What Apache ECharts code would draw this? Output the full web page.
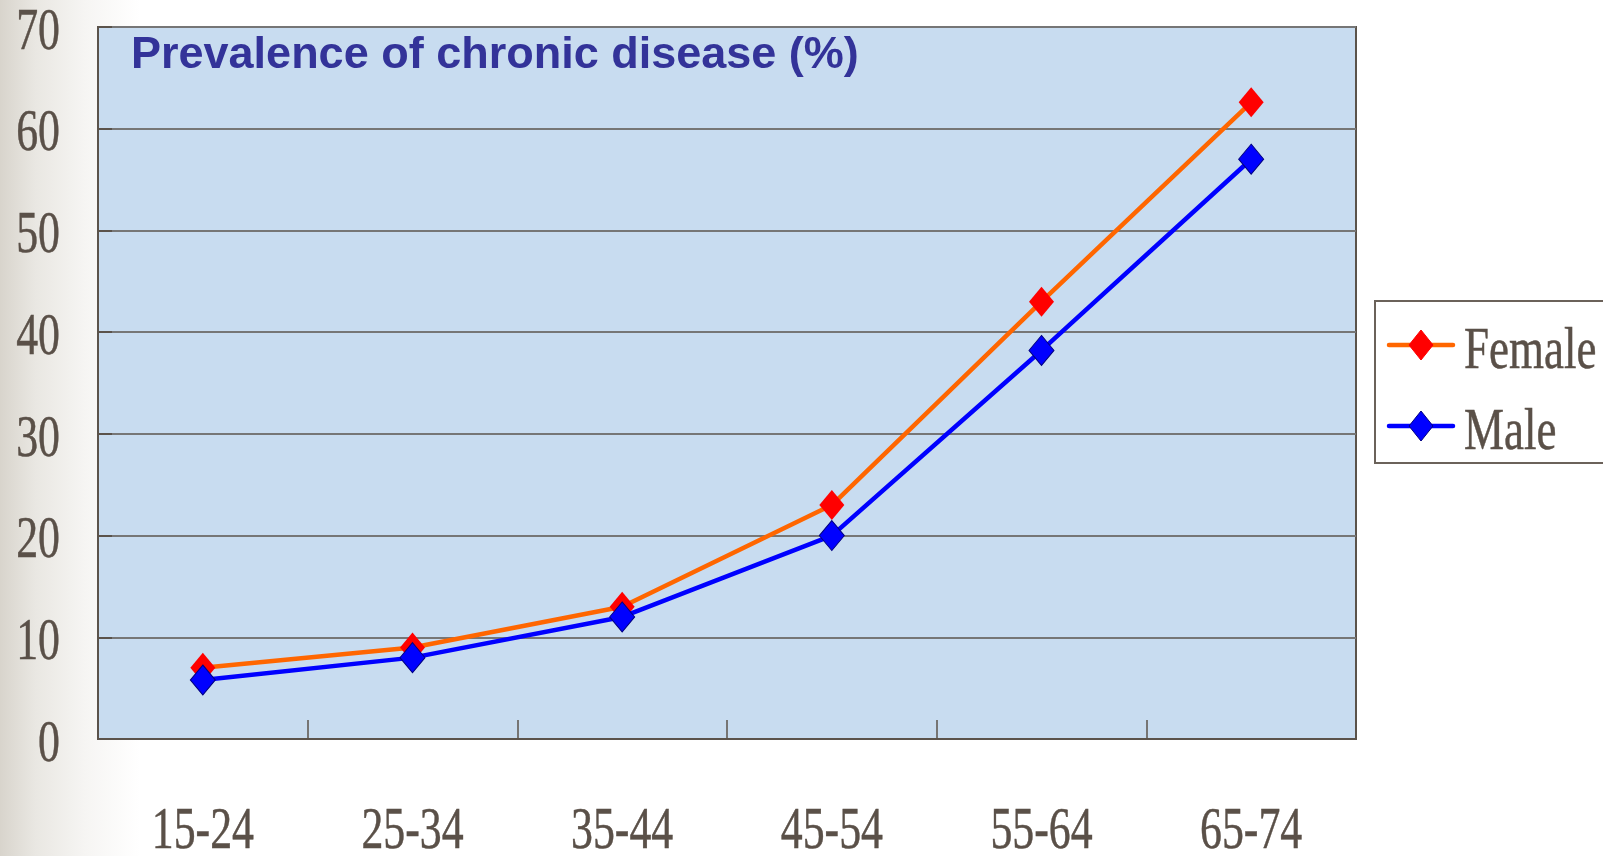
<!DOCTYPE html>
<html>
<head>
<meta charset="utf-8">
<script src="https://cdn.jsdelivr.net/npm/echarts@6/dist/echarts.min.js"></script>
<style>
  html, body { margin: 0; padding: 0; width: 1603px; height: 856px; overflow: hidden;
    background: linear-gradient(to right, #d8d4cc 0px, #e9e7e2 35px, #f6f5f3 85px, #ffffff 140px); }
  #chart { width: 1603px; height: 856px; }
</style>
</head>
<body>
<div id="chart"></div>
<script>
// Age groups and prevalence (%) of chronic disease by sex
const ageGroups = ['15-24', '25-34', '35-44', '45-54', '55-64', '65-74'];
const female = [7, 9, 13, 23, 43, 62.6];
const male = [5.8, 8, 12, 20, 38.2, 57];
const yTicks = [0, 10, 20, 30, 40, 50, 60, 70];
const seriesNames = ['Female', 'Male'];
const titleText = 'Prevalence of chronic disease (%)';

const INK = '#5a5048';
const FRAME = '#5b534b';
const SERIF = '60px "Liberation Serif", "Times New Roman", serif';

const lineColors = ['#ff6600', '#0000ff'];
const markerFill = ['#ff0000', '#0000ff'];
const markerStroke = ['#ff0000', '#000080'];

// narrow serif text: horizontally squeezed, lightly stroked for heavier stems
function narrowText(x, y, text, align, squeeze) {
  return {
    type: 'text', x: x, y: y, scaleX: squeeze, silent: true,
    style: { text: text, font: SERIF, fill: INK, stroke: INK, lineWidth: 0.5,
      align: align, verticalAlign: 'middle' }
  };
}

const chart = echarts.init(document.getElementById('chart'), null, { renderer: 'canvas' });

const legendItems = seriesNames.map(function (name, i) {
  return {
    type: 'group', x: 1389, y: 345 + i * 81, silent: true,
    children: [
      { type: 'line', shape: { x1: 0, y1: 0, x2: 64, y2: 0 },
        style: { stroke: lineColors[i], lineWidth: 4.5, lineCap: 'round' } },
      { type: 'polygon', shape: { points: [[32, -15], [44, 0], [32, 15], [20, 0]] },
        style: { fill: markerFill[i], stroke: markerStroke[i], lineWidth: 1 } },
      narrowText(75, 7, name, 'left', 0.75)
    ]
  };
});

const option = {
  animation: false,
  title: {
    text: titleText, left: 126, top: 28,
    textStyle: { fontFamily: '"Liberation Sans", Arial, sans-serif', fontSize: 45,
      fontWeight: 'bold', color: '#333399' }
  },
  grid: {
    left: 98, top: 27, right: 247, bottom: 117,
    show: true, backgroundColor: '#c8dcf0', borderColor: FRAME, borderWidth: 2
  },
  xAxis: {
    type: 'category', data: ageGroups, boundaryGap: true,
    axisLine: { lineStyle: { color: FRAME, width: 2 } },
    axisTick: { show: true, inside: true, length: 19, interval: 0,
      lineStyle: { color: FRAME, width: 1.5 } },
    axisLabel: { show: false }
  },
  yAxis: {
    type: 'value', min: 0, max: 70, interval: 10,
    axisLine: { show: true, lineStyle: { color: FRAME, width: 2 } },
    axisTick: { show: true, inside: true, length: 14, lineStyle: { color: FRAME, width: 2 } },
    axisLabel: { show: false },
    splitLine: { show: true, lineStyle: { color: '#767676', width: 2 } }
  },
  graphic: [
    { type: 'rect', shape: { x: 1375, y: 301, width: 240, height: 162 }, silent: true,
      style: { fill: '#ffffff', stroke: '#6b625a', lineWidth: 2 } }
  ].concat(legendItems),
  series: [
    {
      name: seriesNames[0], type: 'line', data: female, z: 3,
      symbol: 'diamond', symbolSize: [25, 30],
      lineStyle: { color: lineColors[0], width: 4.5 },
      itemStyle: { color: markerFill[0], borderColor: markerStroke[0], borderWidth: 0 }
    },
    {
      name: seriesNames[1], type: 'line', data: male, z: 4,
      symbol: 'diamond', symbolSize: [25, 30],
      lineStyle: { color: lineColors[1], width: 4.5 },
      itemStyle: { color: markerFill[1], borderColor: markerStroke[1], borderWidth: 1 }
    },
    {
      // category labels under the axis
      type: 'custom', silent: true, clip: false, z: 5,
      data: ageGroups.map(function (c, i) { return [i, 0]; }),
      encode: { x: 0, y: 1 },
      renderItem: function (params, api) {
        const p = api.coord([api.value(0), 0]);
        return narrowText(p[0], p[1] + 93, ageGroups[params.dataIndex], 'center', 0.73);
      }
    },
    {
      // value labels left of the axis
      type: 'custom', silent: true, clip: false, z: 5,
      data: yTicks.map(function (v) { return [0, v]; }),
      encode: { x: 0, y: 1 },
      renderItem: function (params, api) {
        const p = api.coord([0, api.value(1)]);
        return narrowText(params.coordSys.x - 38, p[1] + 6, String(yTicks[params.dataIndex]), 'right', 0.73);
      }
    }
  ]
};

chart.setOption(option);
</script>
</body>
</html>
